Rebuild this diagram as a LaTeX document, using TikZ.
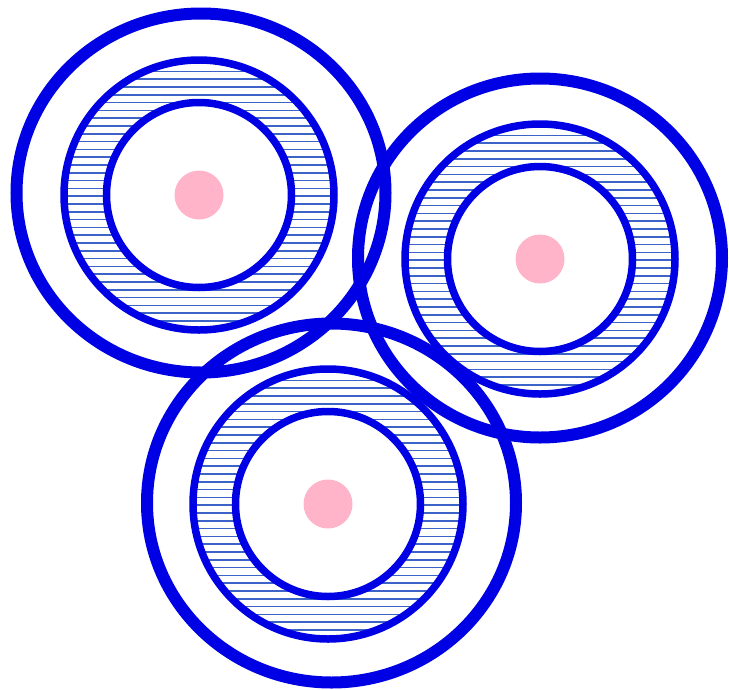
\documentclass[tikz,border=0pt]{standalone}
\begin{document}
\begin{tikzpicture}[x=1pt,y=-1pt,
  ringcol/.style={draw=ringblue},
  outerring/.style={ringcol,line width=12pt},
  midring/.style={ringcol,line width=7.5pt},
  innerring/.style={ringcol,line width=7.5pt},
  hatchline/.style={draw=hatchblue,line width=1.5pt},
  dot/.style={fill=dotpink}]
\definecolor{ringblue}{RGB}{0,0,228}
\definecolor{hatchblue}{RGB}{60,100,200}
\definecolor{dotpink}{RGB}{255,180,202}
\useasboundingbox (0,0) rectangle (729,689);
\coordinate (c1) at (199,195);
\coordinate (c2) at (540,259);
\coordinate (c3) at (328,504);
% hatching
\foreach \cx/\cy in {199/195,540/259,328/504}{
  \begin{scope}[even odd rule]
    \clip (\cx,\cy) circle[radius=136] (\cx,\cy) circle[radius=92];
    \foreach \k in {-18,...,18}{
      \draw[hatchline] (\cx-140,\cy+1.2+\k*7.8) -- (\cx+140,\cy+1.2+\k*7.8);
    }
  \end{scope}
}
% rings
\draw[outerring] (201,193) ellipse[x radius=184.5,y radius=179.5];
\draw[outerring] (540,258) ellipse[x radius=182,y radius=179.5];
\draw[outerring] (331.5,503) ellipse[x radius=184.5,y radius=179.5];
\foreach \c in {c1,c2,c3}{
  \draw[midring] (\c) circle[radius=135];
  \draw[innerring] (\c) circle[radius=92.5];
  \fill[dot] (\c) circle[radius=24.5];
}
\end{tikzpicture}
\end{document}
